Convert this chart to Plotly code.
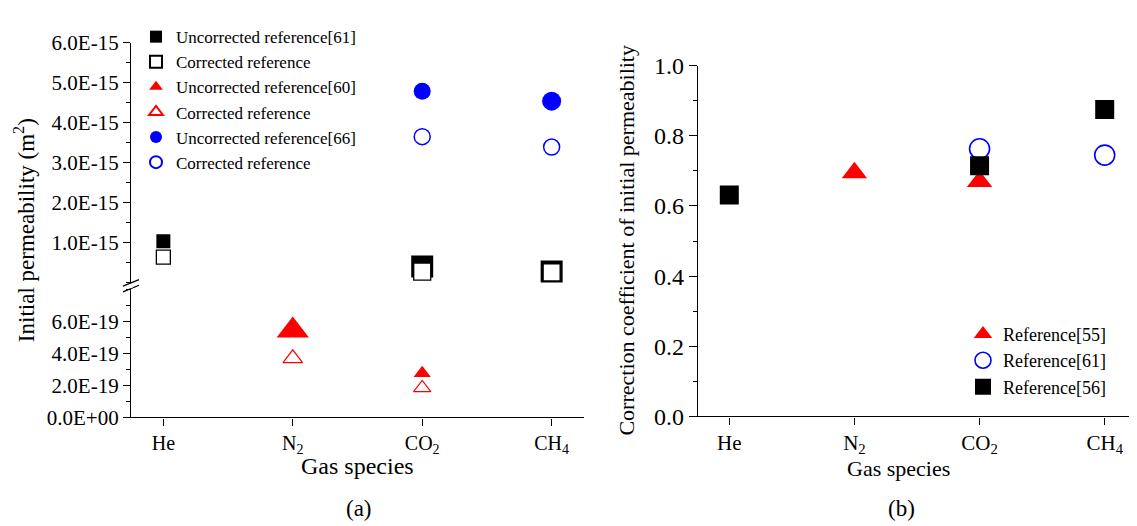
import plotly.graph_objects as go

# ---------------- data ----------------
gases = ["He", "N<sub>2</sub>", "CO<sub>2</sub>", "CH<sub>4</sub>"]

# panel (a): upper part (1E-15 scale), values in m^2
ref61_gas = ["He", "CO<sub>2</sub>", "CH<sub>4</sub>"]
ref61_uncorr = [1.03e-15, 0.40e-15, 0.27e-15]
ref61_corr = [0.635e-15, 0.27e-15, 0.25e-15]
ref61_uncorr_size = [14, 22, 22]
ref61_corr_size = [14, 17, 17]

ref66_gas = ["CO<sub>2</sub>", "CH<sub>4</sub>"]
ref66_uncorr = [4.79e-15, 4.54e-15]
ref66_corr = [3.65e-15, 3.39e-15]
ref66_uncorr_size = [17, 19]
ref66_corr_size = [16, 16]

# panel (a): lower part (1E-19 scale)
ref60_gas = ["N<sub>2</sub>", "CO<sub>2</sub>"]
ref60_uncorr = [5.45e-19, 2.77e-19]
ref60_corr = [3.70e-19, 1.85e-19]
ref60_uncorr_size = [28, 15]
ref60_corr_size = [17, 15]

upper_ticks = [1e-15, 2e-15, 3e-15, 4e-15, 5e-15, 6e-15]
upper_ticktext = ["1.0E-15", "2.0E-15", "3.0E-15", "4.0E-15", "5.0E-15", "6.0E-15"]
lower_ticks = [0, 2e-19, 4e-19, 6e-19]
lower_ticktext = ["0.0E+00", "2.0E-19", "4.0E-19", "6.0E-19"]

# panel (b): correction coefficients
b55_gas = ["N<sub>2</sub>", "CO<sub>2</sub>"]
b55_val = [0.695, 0.67]
b61_gas = ["CO<sub>2</sub>", "CH<sub>4</sub>"]
b61_val = [0.763, 0.745]
b56_gas = ["He", "CO<sub>2</sub>", "CH<sub>4</sub>"]
b56_val = [0.631, 0.715, 0.875]
b_ticks = [0.0, 0.2, 0.4, 0.6, 0.8, 1.0]
b_ticktext = ["0.0", "0.2", "0.4", "0.6", "0.8", "1.0"]

# ---------------- layout geometry ----------------
W, H = 1137, 526
FONT = "Liberation Serif"

def px_x(p):
    return p / W

def px_y(p):
    return 1 - p / H

fig = go.Figure()

BLACK, RED, BLUE = "#000000", "#ff0000", "#0000ff"

# upper left traces (xaxis2 / yaxis2)
fig.add_trace(go.Scatter(x=ref61_gas, y=ref61_uncorr, mode="markers", name="Uncorrected reference[61]",
                         marker=dict(symbol="square", size=ref61_uncorr_size, color=BLACK, opacity=1, line=dict(width=0)),
                         xaxis="x2", yaxis="y2", legend="legend"))
fig.add_trace(go.Scatter(x=ref61_gas, y=ref61_corr, mode="markers", name="Corrected reference",
                         marker=dict(symbol="square", size=ref61_corr_size, color="white", opacity=1,
                                     line=dict(width=1.3, color=BLACK)),
                         xaxis="x2", yaxis="y2", legend="legend"))
# red (lower axis)
fig.add_trace(go.Scatter(x=ref60_gas, y=ref60_uncorr, mode="markers", name="Uncorrected reference[60]",
                         marker=dict(symbol="triangle-up", size=ref60_uncorr_size, color=RED, opacity=1, line=dict(width=0)),
                         xaxis="x", yaxis="y", legend="legend"))
fig.add_trace(go.Scatter(x=ref60_gas, y=ref60_corr, mode="markers", name="Corrected reference",
                         marker=dict(symbol="triangle-up", size=ref60_corr_size, color="white", opacity=1,
                                     line=dict(width=1.2, color=RED)),
                         xaxis="x", yaxis="y", legend="legend"))
# blue (upper axis)
fig.add_trace(go.Scatter(x=ref66_gas, y=ref66_uncorr, mode="markers", name="Uncorrected reference[66]",
                         marker=dict(symbol="circle", size=ref66_uncorr_size, color=BLUE, opacity=1, line=dict(width=0)),
                         xaxis="x2", yaxis="y2", legend="legend"))
fig.add_trace(go.Scatter(x=ref66_gas, y=ref66_corr, mode="markers", name="Corrected reference",
                         marker=dict(symbol="circle", size=ref66_corr_size, color="white", opacity=1,
                                     line=dict(width=1.5, color=BLUE)),
                         xaxis="x2", yaxis="y2", legend="legend"))

# right panel
fig.add_trace(go.Scatter(x=b55_gas, y=b55_val, mode="markers", name="Reference[55]",
                         marker=dict(symbol="triangle-up", size=22, color=RED, opacity=1, line=dict(width=0)),
                         xaxis="x3", yaxis="y3", legend="legend2"))
fig.add_trace(go.Scatter(x=b61_gas, y=b61_val, mode="markers", name="Reference[61]",
                         marker=dict(symbol="circle", size=20, color="white", opacity=1, line=dict(width=1.6, color=BLUE)),
                         xaxis="x3", yaxis="y3", legend="legend2"))
fig.add_trace(go.Scatter(x=b56_gas, y=b56_val, mode="markers", name="Reference[56]",
                         marker=dict(symbol="square", size=19, color=BLACK, opacity=1, line=dict(width=0)),
                         xaxis="x3", yaxis="y3", legend="legend2"))

left_dom = [px_x(123), px_x(576)]
right_dom = [px_x(690), px_x(1128)]

axis_common = dict(showline=True, linecolor="black", linewidth=1.3, ticks="outside", tickcolor="black",
                   tickwidth=1.3, showgrid=False, zeroline=False, mirror=False)

fig.update_layout(
    width=W, height=H,
    margin=dict(l=0, r=0, t=0, b=0),
    paper_bgcolor="white", plot_bgcolor="white",
    font=dict(family=FONT, color="black"),
    showlegend=True,
    xaxis=dict(**axis_common, domain=left_dom, anchor="y", type="category", categoryorder="array",
               categoryarray=gases, range=[-0.25, 3.25], ticklen=7,
               tickfont=dict(size=20, family=FONT)),
    yaxis=dict(**axis_common, domain=[px_y(417), px_y(281)], anchor="x",
               range=[0, 8.1e-19], tickmode="array", tickvals=lower_ticks, ticktext=lower_ticktext,
               ticklen=7, tickfont=dict(size=21, family=FONT),
               minor=dict(ticks="outside", ticklen=4, tickcolor="black", tickwidth=1.3, dtick=1e-19, tick0=0)),
    xaxis2=dict(domain=left_dom, anchor="y2", type="category", categoryorder="array",
                categoryarray=gases, range=[-0.25, 3.25], visible=False, matches="x"),
    yaxis2=dict(**axis_common, domain=[px_y(277), px_y(23)], anchor="x2",
                range=[-0.048e-15, 6e-15], tickmode="array", tickvals=upper_ticks, ticktext=upper_ticktext,
                ticklen=7, tickfont=dict(size=21, family=FONT),
                minor=dict(ticks="outside", ticklen=4, tickcolor="black", tickwidth=1.3, dtick=0.5e-15, tick0=0)),
    xaxis3=dict(**axis_common, domain=right_dom, anchor="y3", type="category", categoryorder="array",
                categoryarray=gases, range=[-0.25, 3.25], ticklen=7,
                tickfont=dict(size=21, family=FONT)),
    yaxis3=dict(**axis_common, domain=[px_y(416), px_y(47)], anchor="x3",
                range=[0, 1.0], tickmode="array", tickvals=b_ticks, ticktext=b_ticktext,
                ticklen=8, tickfont=dict(size=24, family=FONT),
                minor=dict(ticks="outside", ticklen=4, tickcolor="black", tickwidth=1.3, dtick=0.1, tick0=0)),
    legend=dict(x=px_x(128), y=px_y(-2), xanchor="left", yanchor="top", bgcolor="rgba(0,0,0,0)",
                font=dict(size=17, family=FONT), itemsizing="constant", tracegroupgap=0),
    legend2=dict(x=px_x(955), y=px_y(310), xanchor="left", yanchor="top", bgcolor="rgba(0,0,0,0)",
                 font=dict(size=18, family=FONT), itemsizing="trace"),
)

# axis titles and panel labels
ann = [
    dict(text="Initial permeability (m<sup>2</sup>)", x=px_x(16), y=px_y(220), textangle=-90, size=23),
    dict(text="Gas species", x=px_x(349), y=px_y(468), size=24),
    dict(text="(a)", x=px_x(351), y=px_y(513), size=23),
    dict(text="Correction coefficient of initial permeability", x=px_x(619), y=px_y(231), textangle=-90, size=22),
    dict(text="Gas species", x=px_x(891), y=px_y(471), size=22),
    dict(text="(b)", x=px_x(893), y=px_y(513), size=23),
]
for a in ann:
    fig.add_annotation(xref="paper", yref="paper", showarrow=False, xanchor="center", yanchor="middle",
                       font=dict(family=FONT, color="black", size=a["size"]),
                       text=a["text"], x=a["x"], y=a["y"], textangle=a.get("textangle", 0))

# axis break marks
for dy in (0, -6):
    fig.add_shape(type="line", xref="paper", yref="paper",
                  x0=px_x(115), y0=px_y(285 + dy), x1=px_x(131), y1=px_y(278 + dy),
                  line=dict(color="black", width=1.3))
# white gap in axis between break marks
fig.add_shape(type="line", xref="paper", yref="paper", x0=px_x(123), y0=px_y(277), x1=px_x(123), y1=px_y(281),
              line=dict(color="white", width=3), layer="above")

fig.write_html("out.html")
